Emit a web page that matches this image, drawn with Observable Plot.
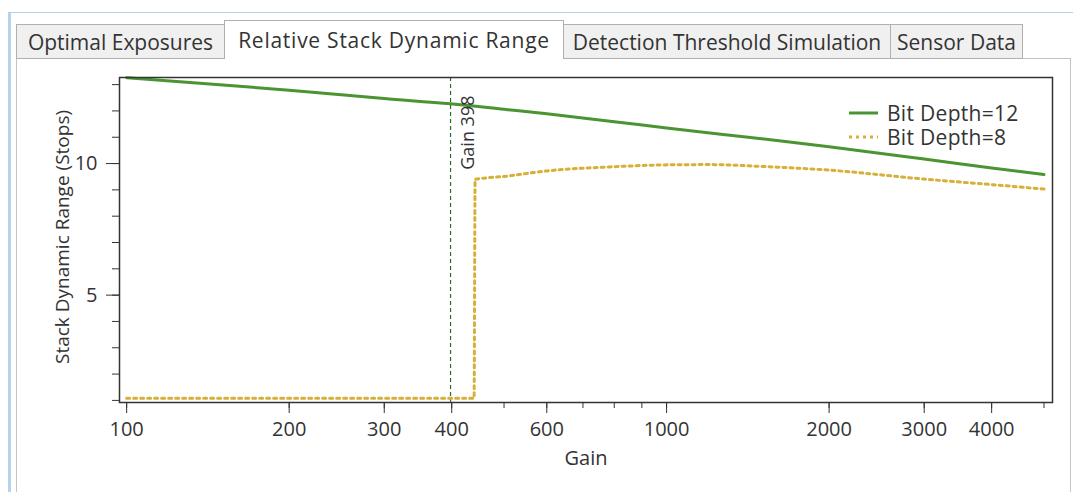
<!DOCTYPE html>
<html><head><meta charset="utf-8">
<script src="https://cdn.jsdelivr.net/npm/d3@7"></script>
<script src="https://cdn.jsdelivr.net/npm/@observablehq/plot@0.6"></script>
<style>
html,body{margin:0;padding:0;background:#fff;width:1073px;height:492px;overflow:hidden;font-family:"Open Sans",sans-serif;color:#333;}
#win{position:absolute;left:8px;top:12px;width:1065px;height:480px;border-left:3px solid #b7d2ec;border-top:1px solid #bccfe2;box-sizing:border-box;}
#panel{position:absolute;left:16px;top:58px;width:1055px;height:450px;border:1px solid #c4c4c4;box-sizing:border-box;background:#fff;}
.tab{position:absolute;box-sizing:border-box;border:1px solid #b0b0b0;background:#f0f0f0;color:#333;font-size:21px;display:flex;align-items:center;justify-content:center;white-space:nowrap;top:24px;height:35px;}
.tab.sel{background:#fff;top:20px;height:39px;border-bottom:none;z-index:3;padding-bottom:1px;letter-spacing:0.75px;}
#chart{position:absolute;left:17px;top:60px;}
#legend{position:absolute;left:849px;top:101px;font-size:21px;letter-spacing:0.3px;color:#333;}
#legend div{display:flex;align-items:center;height:24px;}
#legend span{line-height:22px;display:block;}
#legend svg{margin-right:9px;}
</style></head>
<body>
<div id="win"></div>
<div id="panel"></div>
<div class="tab" style="left:16px;width:209px;">Optimal Exposures</div>
<div class="tab sel" style="left:224px;width:340px;">Relative Stack Dynamic Range</div>
<div class="tab" style="left:563px;width:328px;">Detection Threshold Simulation</div>
<div class="tab" style="left:890px;width:133px;">Sensor Data</div>
<div id="chart"></div>
<div id="legend"></div>
<script>
// Data
const gains12 = [100, 200, 300, 398, 500, 600, 800, 1000, 1500, 2000, 3000, 4000, 5000];
const range12 = [13.26, 12.79, 12.47, 12.27, 12.06, 11.89, 11.59, 11.35, 10.94, 10.64, 10.17, 9.83, 9.58];
const gains8 = [100, 200, 300, 400, 440, 442, 500, 600, 800, 1000, 1200, 1500, 2000, 3000, 4000, 5000];
const range8 = [1.08, 1.08, 1.08, 1.08, 1.08, 9.40, 9.51, 9.72, 9.88, 9.95, 9.96, 9.89, 9.75, 9.41, 9.20, 9.03];
const seriesNames = ["Bit Depth=12", "Bit Depth=8"];
const markerGain = 398;
const xMinorTicks = [100, 200, 300, 400, 500, 600, 700, 800, 900, 1000, 2000, 3000, 4000, 5000];
const xMajorTicks = [100, 200, 300, 400, 600, 1000, 2000, 3000, 4000];
const yMinorTicks = [1, 2, 3, 4, 5, 6, 7, 8, 9, 10, 11, 12, 13];
const yMajorTicks = [5, 10];
const xTitle = "Gain";
const yTitle = "Stack Dynamic Range (Stops)";

const green = "#4a9432", gold = "#d6b038";
const rows12 = gains12.map((g, i) => ({gain: g, value: range12[i]}));
const rows8 = gains8.map((g, i) => ({gain: g, value: range8[i]}));

const chart = Plot.plot({
  width: 1053, height: 432,
  marginLeft: 102, marginRight: 18, marginTop: 17, marginBottom: 90,
  style: {fontFamily: "Open Sans", fontSize: "20px", color: "#333", background: "transparent", overflow: "visible"},
  x: {type: "log", domain: [97, 5185]},
  y: {domain: [0.92, 13.27]},
  marks: [
    Plot.ruleX([markerGain], {stroke: "#2f6a2a", strokeWidth: 1.2, strokeDasharray: "4,3"}),
    Plot.line(rows8, {x: "gain", y: "value", stroke: gold, strokeWidth: 3, strokeDasharray: "3,4", curve: "monotone-x"}),
    Plot.line(rows12, {x: "gain", y: "value", stroke: green, strokeWidth: 3, curve: "monotone-x"}),
    Plot.text([markerGain], {x: d => d, text: d => "Gain " + d, frameAnchor: "top", rotate: -90, textAnchor: "end", dy: 18, dx: 11, fontSize: 18, fill: "#333"}),
    Plot.frame({stroke: "#333", strokeWidth: 1.5}),
    Plot.axisX(xMinorTicks, {tickSize: 6, tickFormat: () => "", stroke: "#333", label: null}),
    Plot.axisX(xMajorTicks, {tickSize: 11, tickPadding: 8, fontSize: 20, tickFormat: d => String(d), stroke: "#333", fill: "#333", label: null}),
    Plot.axisY(yMinorTicks, {tickSize: 7, tickFormat: () => "", stroke: "#333", label: null}),
    Plot.axisY(yMajorTicks, {tickSize: 13, tickPadding: 9, fontSize: 20, tickFormat: d => String(d), stroke: "#333", fill: "#333", label: null}),
    Plot.text([yTitle], {text: d => d, frameAnchor: "left", textAnchor: "middle", lineAnchor: "middle", rotate: -90, dx: -57, dy: -3, fontSize: 19, fill: "#333"}),
    Plot.text([xTitle], {text: d => d, frameAnchor: "bottom", lineAnchor: "middle", dy: 56, fontSize: 20, fill: "#333"})
  ]
});
document.getElementById("chart").appendChild(chart);

const legend = document.getElementById("legend");
seriesNames.forEach((name, i) => {
  const row = document.createElement("div");
  const dash = i === 0 ? "" : 'stroke-dasharray="3,4"';
  row.innerHTML = `<svg width="29" height="6"><line x1="0" x2="29" y1="3" y2="3" stroke="${i === 0 ? green : gold}" stroke-width="3" ${dash}/></svg><span>${name}</span>`;
  legend.appendChild(row);
});
</script>
</body></html>
